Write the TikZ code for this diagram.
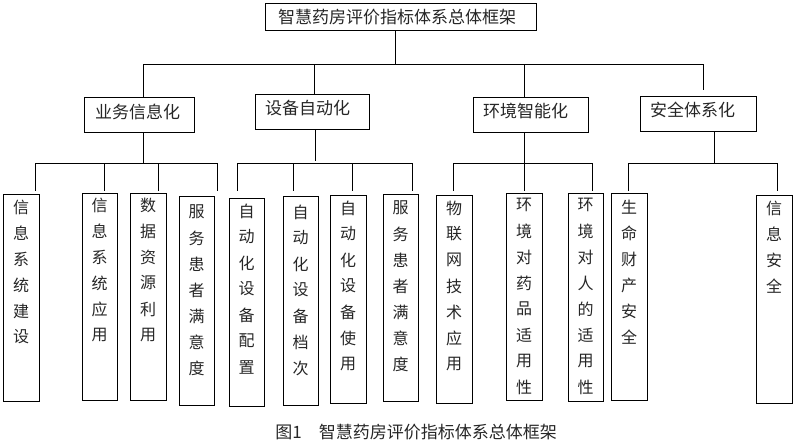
\documentclass[tikz,border=0pt]{standalone}
\usepackage{fontspec}
\newfontfamily\cjk{Noto Sans CJK SC}
\newcommand\leafbox[7]{%
  \node[box, minimum width={#3-#2}, minimum height={#5-#4}] (#1) at ({(#2+#3)/2},{(#4+#5)/2}) {};
  \foreach \c [count=\i from 0] in {#7}
    \node[leaftxt] (#1-\i) at ({(#2+#3)/2},{#6+26*\i}) {\c};
}
\begin{document}
\begin{tikzpicture}[x=1pt,y=-1pt, line width=0.8pt,
  box/.style={draw, rectangle, inner sep=0pt},
  lbl/.style={font=\cjk\fontsize{17}{17}\selectfont, inner sep=0pt, text=black!85},
  leaftxt/.style={font=\cjk\fontsize{16}{16}\selectfont, inner sep=0pt, text=black!85},
  link/.style={draw, line width=0.8pt}]
\useasboundingbox (0,0) rectangle (796,445);

% root
\node[box, minimum width=271pt, minimum height=27pt] (root) at (400.5,16.5) {};
\node[lbl] (roott) at (397,17) {智慧药房评价指标体系总体框架};

% level 2
\node[box, minimum width=110pt, minimum height=35pt] (b1) at (139,114.5) {};
\node[lbl] (b1t) at (137.5,111.5) {业务信息化};
\node[box, minimum width=114pt, minimum height=35pt] (b2) at (312,111.5) {};
\node[lbl] (b2t) at (307.5,108) {设备自动化};
\node[box, minimum width=115pt, minimum height=35pt] (b3) at (530.5,114.5) {};
\node[lbl] (b3t) at (525.5,111) {环境智能化};
\node[box, minimum width=116pt, minimum height=35pt] (b4) at (698,113.5) {};
\node[lbl] (b4t) at (692.5,110) {安全体系化};

% leaves
\leafbox{l1}{3}{39}{194}{401}{207}{信,息,系,统,建,设}
\leafbox{l2}{82}{117}{193}{400}{205}{信,息,系,统,应,用}
\leafbox{l3}{130}{166}{193}{400}{205}{数,据,资,源,利,用}
\leafbox{l4}{179}{214}{196}{405}{212}{服,务,患,者,满,意,度}
\leafbox{l5}{229}{264}{198}{406}{211}{自,动,化,设,备,配,置}
\leafbox{l6}{283}{318}{196}{405}{212}{自,动,化,设,备,档,次}
\leafbox{l7}{330}{366}{195}{403}{208}{自,动,化,设,备,使,用}
\leafbox{l8}{383}{418}{194}{401}{208}{服,务,患,者,满,意,度}
\leafbox{l9}{436}{472}{195}{403}{208}{物,联,网,技,术,应,用}
\leafbox{l10}{506}{542}{193}{400}{205}{环,境,对,药,品,适,用,性}
\leafbox{l11}{568}{603}{193}{401}{205}{环,境,对,人,的,适,用,性}
\leafbox{l12}{611}{647}{193}{400}{207}{生,命,财,产,安,全}
\leafbox{l13}{756}{792}{195}{403}{208}{信,息,安,全}

% level 1 connectors
\coordinate (j0) at (395,64);
\coordinate (hL) at (143,64);
\coordinate (hR) at (703,64);
\coordinate (h2) at (314,64);
\coordinate (h3) at (524,64);
\coordinate (e4) at (703,90);
\draw[link] (root.south -| j0) -- (j0);
\draw[link] (hL) -- (hR);
\draw[link] (hL) -- (hL |- b1.north);
\draw[link] (h2) -- (h2 |- b2.north);
\draw[link] (h3) -- (h3 |- b3.north);
\draw[link] (hR) -- (e4);

% level 2 stems
\coordinate (s1) at (143,163);
\coordinate (s2) at (315,161);
\coordinate (s3) at (524,163);
\coordinate (s4) at (714,163);
\draw[link] (s1 |- b1.south) -- (s1);
\draw[link] (s2 |- b2.south) -- (s2);
\draw[link] (s3 |- b3.south) -- (s3);
\draw[link] (s4 |- b4.south) -- (s4);

% group bars
\coordinate (g1a) at (35,163);  \coordinate (g1b) at (217,163);
\coordinate (g2a) at (237,163); \coordinate (g2b) at (412,163);
\coordinate (g3a) at (453,163); \coordinate (g3b) at (592,163);
\coordinate (g4a) at (628,163); \coordinate (g4b) at (777,163);
\draw[link] (g1a) -- (g1b);
\draw[link] (g2a) -- (g2b);
\draw[link] (g3a) -- (g3b);
\draw[link] (g4a) -- (g4b);
\foreach \x in {35,104,158,217,237,293,352,412,453,524,592,628,777}
  \draw[link] (\x,163) -- (\x,191);

% caption
\node[lbl, anchor=west] (cap) at (275,432) {图1\hspace{17pt}智慧药房评价指标体系总体框架};
\end{tikzpicture}
\end{document}
